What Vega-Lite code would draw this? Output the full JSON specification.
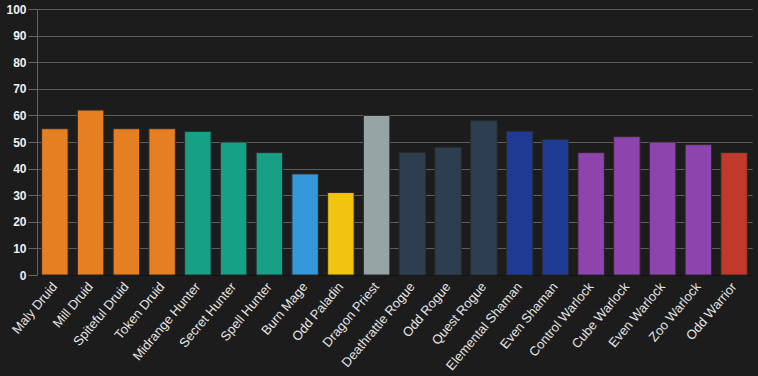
{
  "$schema": "https://vega.github.io/schema/vega-lite/v6.json",
  "width": 715,
  "height": 266,
  "autosize": {"type": "none"},
  "padding": {"left": 37, "top": 9, "right": 6, "bottom": 101},
  "background": "#1c1c1c",
  "config": {"view": {"stroke": null}},
  "data": {
    "values": [
      {"deck": "Maly Druid", "cls": "Druid", "value": 55},
      {"deck": "Mill Druid", "cls": "Druid", "value": 62},
      {"deck": "Spiteful Druid", "cls": "Druid", "value": 55},
      {"deck": "Token Druid", "cls": "Druid", "value": 55},
      {"deck": "Midrange Hunter", "cls": "Hunter", "value": 54},
      {"deck": "Secret Hunter", "cls": "Hunter", "value": 50},
      {"deck": "Spell Hunter", "cls": "Hunter", "value": 46},
      {"deck": "Burn Mage", "cls": "Mage", "value": 38},
      {"deck": "Odd Paladin", "cls": "Paladin", "value": 31},
      {"deck": "Dragon Priest", "cls": "Priest", "value": 60},
      {"deck": "Deathrattle Rogue", "cls": "Rogue", "value": 46},
      {"deck": "Odd Rogue", "cls": "Rogue", "value": 48},
      {"deck": "Quest Rogue", "cls": "Rogue", "value": 58},
      {"deck": "Elemental Shaman", "cls": "Shaman", "value": 54},
      {"deck": "Even Shaman", "cls": "Shaman", "value": 51},
      {"deck": "Control Warlock", "cls": "Warlock", "value": 46},
      {"deck": "Cube Warlock", "cls": "Warlock", "value": 52},
      {"deck": "Even Warlock", "cls": "Warlock", "value": 50},
      {"deck": "Zoo Warlock", "cls": "Warlock", "value": 49},
      {"deck": "Odd Warrior", "cls": "Warrior", "value": 46}
    ]
  },
  "mark": {"type": "bar", "stroke": "#2a2a2a", "strokeWidth": 1},
  "encoding": {
    "x": {
      "field": "deck",
      "type": "nominal",
      "sort": null,
      "scale": {"paddingInner": 0.26, "paddingOuter": 0.13},
      "axis": {
        "title": null,
        "labelAngle": -50,
        "labelAlign": "right",
        "labelBaseline": "middle",
        "labelColor": "#e6e6e6",
        "labelFont": "Liberation Sans",
        "labelFontSize": 13,
        "labelPadding": 9,
        "labelOverlap": false,
        "ticks": false,
        "domainColor": "#111111",
        "domainWidth": 1
      }
    },
    "y": {
      "field": "value",
      "type": "quantitative",
      "scale": {"domain": [0, 100], "nice": false},
      "axis": {
        "title": null,
        "values": [0,10,20,30,40,50,60,70,80,90,100],
        "labelOverlap": false,
        "labelColor": "#f0f0f0",
        "labelFont": "Liberation Sans",
        "labelFontWeight": "bold",
        "labelFontSize": 12,
        "labelPadding": 2,
        "tickSize": 9,
        "tickColor": "#666666",
        "gridColor": "#5e5e5e",
        "gridWidth": 1,
        "domainColor": "#666666"
      }
    },
    "color": {
      "field": "cls",
      "type": "nominal",
      "legend": null,
      "scale": {
        "domain": ["Druid", "Hunter", "Mage", "Paladin", "Priest", "Rogue", "Shaman", "Warlock", "Warrior"],
        "range": ["#e67e22", "#16a085", "#3498db", "#f1c40f", "#95a5a6", "#2c3e50", "#1f3a93", "#8e44ad", "#c0392b"]
      }
    }
  }
}
